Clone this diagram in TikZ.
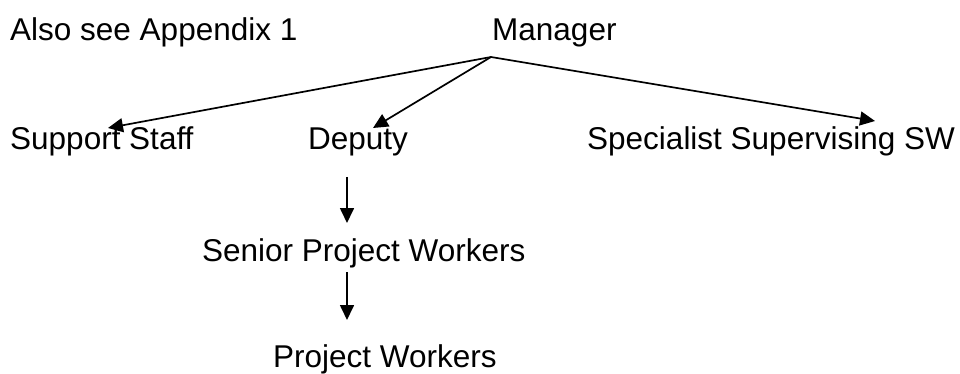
\documentclass[tikz,border=0pt]{standalone}
\usepackage{fontspec}
\setmainfont{Liberation Sans}
\usetikzlibrary{arrows.meta}
\begin{document}
\begin{tikzpicture}[x=1pt,y=-1pt,
  lbl/.style={anchor=base west,inner sep=0pt,font=\fontsize{31.5}{36}\selectfont},
  conn/.style={line width=1.7pt,-{Triangle[length=15pt,width=14pt]}}]
\useasboundingbox (0,0) rectangle (960,374);
\node[lbl] (app) at (10,40.7) {Also see Appendix 1};
\node[lbl] (mgr) at (492,40.7) {Manager};
\node[lbl] (sup) at (10,150) {Support Staff};
\node[lbl] (dep) at (308,150) {Deputy};
\node[lbl] (spec) at (587,150) {Specialist Supervising SW};
\node[lbl] (spw) at (202,261) {Senior Project Workers};
\node[lbl] (pw) at (273,367.5) {Project Workers};
\coordinate (mo) at (491,57);
\coordinate (supt) at (108,128);
\coordinate (dept) at (373,128);
\coordinate (spect) at (875,121);
\coordinate (d1) at (347,177);
\coordinate (d1t) at (347,223);
\coordinate (d2) at (347,272);
\coordinate (d2t) at (347,320);
\draw[conn] (mo) -- (supt);
\draw[conn] (mo) -- (dept);
\draw[conn] (mo) -- (spect);
\draw[conn] (d1) -- (d1t);
\draw[conn] (d2) -- (d2t);
\end{tikzpicture}
\end{document}
